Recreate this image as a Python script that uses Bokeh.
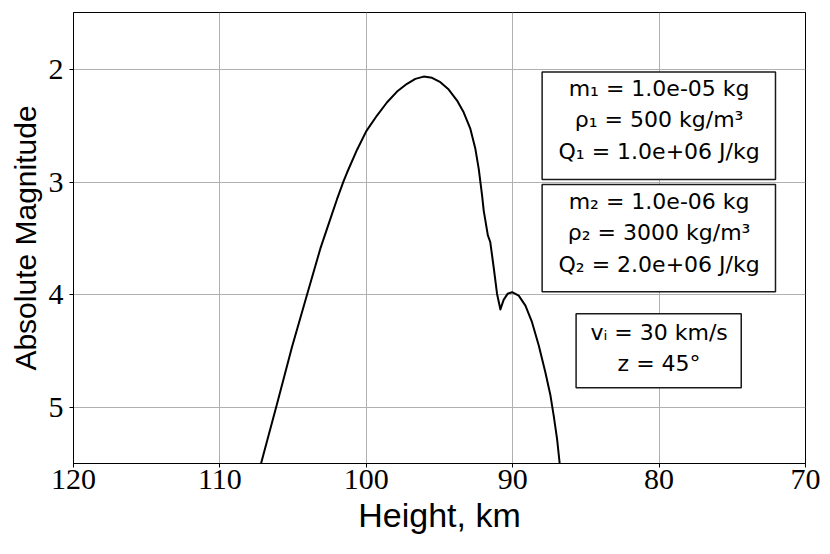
from bokeh.plotting import figure
from bokeh.models import Range1d, FixedTicker, BoxAnnotation, Label
from bokeh.embed import file_html
from bokeh.resources import INLINE

# ---- data ----
heights = [107.19, 106.10, 105.08, 104.05, 103.14, 102.34, 102.00, 101.55, 101.32,
           100.63, 100.00, 99.27, 98.58, 97.90, 97.22, 96.65, 96.08, 95.51, 94.94,
           94.37, 93.80, 93.35, 92.89, 92.55, 92.32, 92.09, 91.98, 91.75, 91.70,
           91.53, 91.30, 91.07, 90.84, 90.62, 90.34, 90.04, 89.59, 89.13, 88.68,
           88.22, 87.77, 87.42, 87.20, 86.97, 86.79]
mags = [5.50, 4.97, 4.466, 4.00, 3.59, 3.28, 3.15, 2.99, 2.915,
        2.71, 2.545, 2.406, 2.288, 2.193, 2.124, 2.080, 2.060, 2.071, 2.110,
        2.175, 2.273, 2.377, 2.525, 2.702, 2.88, 3.118, 3.251, 3.429, 3.47,
        3.533, 3.755, 3.99, 4.13, 4.045, 3.99, 3.977, 4.007, 4.096, 4.244,
        4.451, 4.689, 4.896, 5.074, 5.281, 5.50]

x_ticks = [120, 110, 100, 90, 80, 70]
y_ticks = [2, 3, 4, 5]

box1_lines = ["m\u2081 = 1.0e-05 kg", "\u03c1\u2081 = 500 kg/m\u00b3", "Q\u2081 = 1.0e+06 J/kg"]
box2_lines = ["m\u2082 = 1.0e-06 kg", "\u03c1\u2082 = 3000 kg/m\u00b3", "Q\u2082 = 2.0e+06 J/kg"]
box3_lines = ["v\u1d62 = 30 km/s", "z = 45\u00b0"]

x_label = "Height, km"
y_label = "Absolute Magnitude"

# ---- figure ----
p = figure(width=830, height=554,
           x_range=Range1d(120, 70), y_range=Range1d(5.5, 1.49),
           output_backend="svg", toolbar_location=None,
           min_border_left=73, min_border_right=25,
           min_border_top=12, min_border_bottom=91)

p.outline_line_color = "black"
p.outline_line_width = 1
p.background_fill_color = "white"
p.border_fill_color = "white"

p.grid.grid_line_color = "#b0b0b0"
p.grid.grid_line_width = 1

p.xaxis.ticker = FixedTicker(ticks=x_ticks)
p.yaxis.ticker = FixedTicker(ticks=y_ticks)
for ax in (p.xaxis, p.yaxis):
    ax.axis_line_color = "black"
    ax.major_tick_line_color = "black"
    ax.major_tick_out = 4
    ax.major_tick_in = 0
    ax.minor_tick_line_color = None
    ax.major_label_text_font = "Liberation Serif"
    ax.major_label_text_font_size = "30px"
    ax.major_label_text_color = "black"
    ax.axis_label_text_font = "Liberation Sans"
    ax.axis_label_text_font_style = "normal"
    ax.axis_label_text_color = "black"

p.xaxis.axis_label = x_label
p.xaxis.axis_label_text_font_size = "34px"
p.xaxis.major_label_standoff = 2
p.xaxis.axis_label_standoff = 4
p.yaxis.axis_label = y_label
p.yaxis.axis_label_text_font_size = "30px"
p.yaxis.major_label_standoff = 6
p.yaxis.axis_label_standoff = 4

p.line(heights, mags, line_color="black", line_width=2, line_join="round")

# ---- annotation boxes ----
boxes = [
    (87.99, 72.05, 2.018, 2.975),
    (87.99, 72.05, 3.020, 3.974),
    (85.67, 74.39, 4.169, 4.827),
]
for (l, r, t, b) in boxes:
    p.add_layout(BoxAnnotation(left=l, right=r, top=t, bottom=b,
                               fill_color="white", fill_alpha=1.0,
                               line_color="#1a1a1a", line_alpha=1.0,
                               line_width=1.5))

line_y = [[2.169, 2.440, 2.729], [3.171, 3.442, 3.731], [4.338, 4.607]]
for lines, ys in zip([box1_lines, box2_lines, box3_lines], line_y):
    for txt, yy in zip(lines, ys):
        p.add_layout(Label(x=80.0, y=yy, text=txt, text_align="center",
                           text_baseline="middle", text_font="DejaVu Sans",
                           text_font_size="22px", text_color="black"))

open("out.html", "w").write(file_html(p, INLINE))
